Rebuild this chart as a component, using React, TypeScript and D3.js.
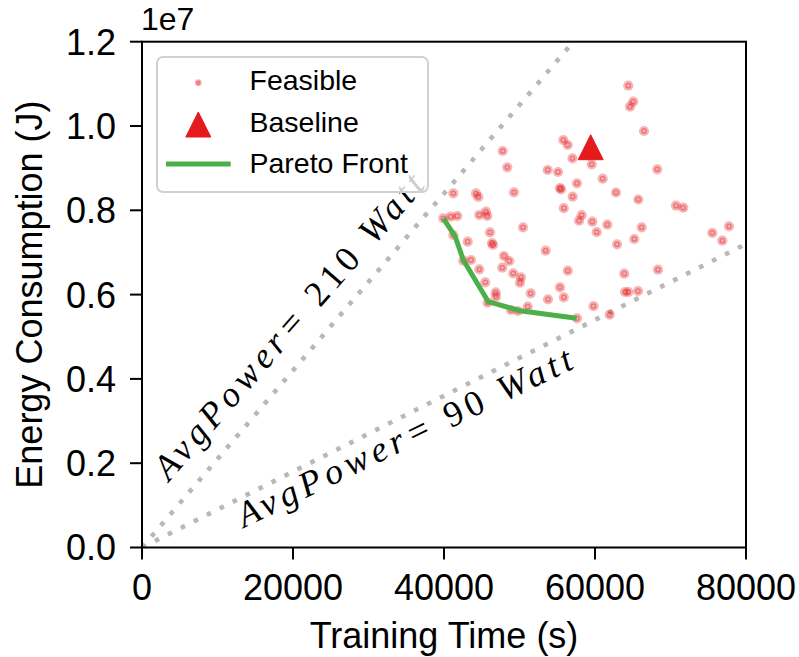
import React from "react";
import * as d3 from "d3";

// feasible configurations: training time (s) and energy (J)
const trainingTime = [
  64410, 65073, 64636, 66490, 55801, 56384, 47775, 57020, 59563, 48384,
  68252, 53735, 55099, 61020, 57616, 55364, 55497, 49271, 62781, 41232,
  44238, 44543, 57046, 65735, 70728, 71695, 55867, 45563, 40887, 41761,
  44675, 45735, 58238, 57881, 59642, 61629, 50463, 66185, 77748, 60225,
  46093, 75536, 41232, 65205, 76861, 43139, 46358, 46490, 62914, 53470,
  47947, 43576, 42556, 48649, 47722, 44675, 56397, 68344, 49179, 63881,
  50199, 50066, 45470, 55364, 65695, 63973, 64410, 46848, 46887, 51483,
  55867, 53775, 45788, 59801, 51086, 48874, 61947, 57616, 39907, 49801,
];
const energy = [
  10.956e6, 10.577e6, 10.458e6, 9.881e6, 9.668e6, 9.549e6, 9.407e6, 9.234e6, 9.091e6, 9.02e6,
  8.973e6, 8.956e6, 8.909e6, 8.75e6, 8.641e6, 8.529e6, 8.494e6, 8.427e6, 8.422e6, 8.403e6,
  8.403e6, 8.316e6, 8.323e6, 8.256e6, 8.109e6, 8.062e6, 8.05e6, 7.967e6, 7.848e6, 7.865e6,
  7.889e6, 7.865e6, 7.884e6, 7.753e6, 7.73e6, 7.658e6, 7.597e6, 7.597e6, 7.62e6, 7.48e6,
  7.478e6, 7.462e6, 7.414e6, 7.319e6, 7.279e6, 7.255e6, 7.224e6, 7.177e6, 7.193e6, 7.042e6,
  6.916e6, 6.821e6, 6.804e6, 6.797e6, 6.638e6, 6.6e6, 6.567e6, 6.591e6, 6.505e6, 6.496e6,
  6.41e6, 6.282e6, 6.292e6, 6.173e6, 6.085e6, 6.062e6, 6.062e6, 6.055e6, 5.95e6, 6.031e6,
  5.936e6, 5.889e6, 5.808e6, 5.725e6, 5.713e6, 5.635e6, 5.523e6, 5.438e6, 7.81e6, 5.611e6,
];

const paretoTime = [39907, 41457, 42556, 45868, 50066, 57576];
const paretoEnergy = [7.81e6, 7.39e6, 6.821e6, 5.832e6, 5.618e6, 5.438e6];

const baselineTime = 59430;
const baselineEnergy = 9.497e6;

const powerLevels = [210, 90];
const powerLabelTime = [3576, 13510];
const powerLabelEnergy = [1.554e6, 0.463e6];

const xTicks = [0, 20000, 40000, 60000, 80000];
const yTicks = [0, 0.2e7, 0.4e7, 0.6e7, 0.8e7, 1.0e7, 1.2e7];

const legendLabels = ["Feasible", "Baseline", "Pareto Front"];

const RED = "#e41a1c";
const GREEN = "#4daf4a";
const GRAY = "#b8b8b8";

function FeasibleDot({ cx, cy, r }: { cx: number; cy: number; r: number }) {
  return (
    <g>
      <circle cx={cx} cy={cy} r={r} fill={RED} fillOpacity={0.32} />
      <circle
        cx={cx}
        cy={cy}
        r={r * 0.42}
        fill="none"
        stroke={RED}
        strokeOpacity={0.4}
        strokeWidth={1.5}
      />
    </g>
  );
}

export default function App() {
  const width = 799;
  const height = 657;
  const margin = { top: 41.7, right: 53, bottom: 109.5, left: 142 };

  const xScale = d3
    .scaleLinear()
    .domain([0, 80000])
    .range([margin.left, width - margin.right]);
  const yScale = d3
    .scaleLinear()
    .domain([0, 1.2e7])
    .range([height - margin.bottom, margin.top]);

  const [x0, x1] = xScale.range();
  const [y0, y1] = yScale.range();

  const line = d3
    .line<[number, number]>()
    .x((d) => xScale(d[0]))
    .y((d) => yScale(d[1]));

  const paretoPath = line(paretoTime.map((t, i) => [t, paretoEnergy[i]]));

  // the labels sit a touch flatter than the lines themselves
  const labelAngles = [49, 25.8];
  const labelLengths = [392, 368];

  const tri = (cx: number, cy: number, s: number) =>
    `M${cx},${cy - s / 2} L${cx + s / 2},${cy + s / 2} L${cx - s / 2},${cy + s / 2} Z`;

  const sans = "'Liberation Sans', Arial, sans-serif";
  const serif = "'Liberation Serif', 'Times New Roman', serif";

  return (
    <svg
      width={width}
      height={height}
      style={{ position: "absolute", left: 0, top: 0, background: "white" }}
    >
      <defs>
        <clipPath id="plot-clip">
          <rect x={x0} y={y1} width={x1 - x0} height={y0 - y1} />
        </clipPath>
      </defs>

      {/* constant power lines */}
      <g clipPath="url(#plot-clip)">
        {powerLevels.map((p) => (
          <path
            key={p}
            d={line([
              [0, 0],
              [80000, p * 80000],
            ]) as string}
            fill="none"
            stroke={GRAY}
            strokeWidth={4.6}
            strokeDasharray="4.6 9.9"
          />
        ))}
      </g>

      {/* power line labels */}
      {powerLevels.map((p, i) => {
        const lx = xScale(powerLabelTime[i]);
        const ly = yScale(powerLabelEnergy[i]);
        return (
          <text
            key={p}
            transform={`translate(${lx},${ly}) rotate(${-labelAngles[i]})`}
            fontFamily={serif}
            fontSize={36}
            fontStyle="italic"
            fill="black"
            textLength={labelLengths[i]}
            lengthAdjust="spacing"
          >
            AvgPower=
            <tspan fontStyle="normal"> {p} </tspan>
            Watt
          </text>
        );
      })}

      {/* feasible points */}
      {trainingTime.map((t, i) => (
        <FeasibleDot key={i} cx={xScale(t)} cy={yScale(energy[i])} r={5.1} />
      ))}

      {/* pareto front */}
      <path
        d={paretoPath as string}
        fill="none"
        stroke={GREEN}
        strokeWidth={5}
        strokeLinejoin="round"
      />

      {/* baseline */}
      <path
        d={tri(xScale(baselineTime), yScale(baselineEnergy), 25)}
        fill={RED}
        stroke={RED}
        strokeWidth={1}
        strokeLinejoin="round"
      />

      {/* spines */}
      <rect
        x={x0}
        y={y1}
        width={x1 - x0}
        height={y0 - y1}
        fill="none"
        stroke="black"
        strokeWidth={2}
      />

      {/* X-axis */}
      {xTicks.map((tick) => (
        <g key={tick} transform={`translate(${xScale(tick)},${y0})`}>
          <line y1={0} y2={12} stroke="black" strokeWidth={2} />
          <text
            y={52.5}
            textAnchor="middle"
            fontFamily={sans}
            fontSize={36}
            fill="black"
          >
            {d3.format("d")(tick)}
          </text>
        </g>
      ))}
      <text
        x={(x0 + x1) / 2}
        y={648}
        textAnchor="middle"
        fontFamily={sans}
        fontSize={36}
        fill="black"
      >
        Training Time (s)
      </text>

      {/* Y-axis */}
      {yTicks.map((tick) => (
        <g key={tick} transform={`translate(${x0},${yScale(tick)})`}>
          <line x1={0} x2={-12} stroke="black" strokeWidth={2} />
          <text
            x={-26}
            dy="0.36em"
            textAnchor="end"
            fontFamily={sans}
            fontSize={36}
            fill="black"
          >
            {(tick / 1e7).toFixed(1)}
          </text>
        </g>
      ))}
      <text x={141} y={30} fontFamily={sans} fontSize={32} fill="black">
        1e7
      </text>
      <text
        transform={`translate(42,${(y0 + y1) / 2}) rotate(-90)`}
        textAnchor="middle"
        fontFamily={sans}
        fontSize={36}
        fill="black"
      >
        Energy Consumption (J)
      </text>

      {/* Legend */}
      <g>
        <rect
          x={157}
          y={57}
          width={271}
          height={135}
          rx={6}
          fill="white"
          fillOpacity={0.8}
          stroke="#d0d0d0"
          strokeWidth={2}
        />
        <FeasibleDot cx={198.3} cy={82.7} r={3.4} />
        <path
          d={tri(198.3, 124.5, 25)}
          fill={RED}
          stroke={RED}
          strokeWidth={1}
          strokeLinejoin="round"
        />
        <line x1={166} x2={230.7} y1={164} y2={164} stroke={GREEN} strokeWidth={5} />
        {legendLabels.map((label, i) => (
          <text
            key={label}
            x={249.5}
            y={90 + i * 41.7}
            fontFamily={sans}
            fontSize={28.5}
            fill="black"
          >
            {label}
          </text>
        ))}
      </g>
    </svg>
  );
}
